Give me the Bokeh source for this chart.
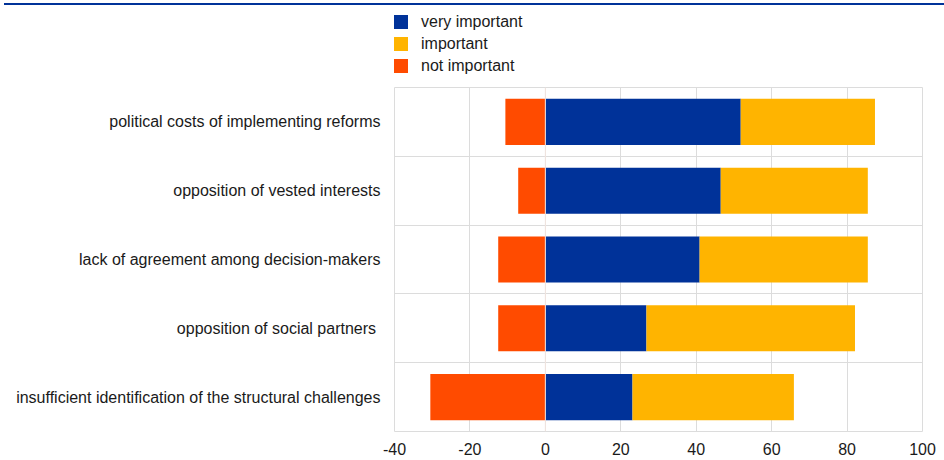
from bokeh.plotting import figure
from bokeh.models import FactorRange, FixedTicker, Span, Range1d, Div
from bokeh.layouts import column
from bokeh.embed import file_html
from bokeh.resources import INLINE

categories = [
    "political costs of implementing reforms",
    "opposition of vested interests",
    "lack of agreement among decision-makers",
    "opposition of social partners ",
    "insufficient identification of the structural challenges",
]
very_important = [51.8, 46.5, 40.9, 26.8, 23.1]
important = [35.6, 39.0, 44.6, 55.3, 42.8]
not_important = [-10.6, -7.2, -12.5, -12.5, -30.5]
series_names = ["very important", "important", "not important"]
x_ticks = [-40, -20, 0, 20, 40, 60, 80, 100]
x_tick_labels = ["-40", "-20", "0", "20", "40", "60", "80", "100"]

BLUE = "#003299"
YELLOW = "#FFB400"
ORANGE = "#FF4B00"
series_colors = [BLUE, YELLOW, ORANGE]
FONT = "Liberation Sans"
TEXT = "#1a1a1a"
GRID = "#dcdcdc"

p = figure(
    width=944, height=383,
    y_range=FactorRange(factors=list(reversed(categories)), range_padding=0),
    x_range=Range1d(-40, 100),
    output_backend="svg", toolbar_location=None,
    min_border_left=394, min_border_right=22, min_border_top=10, min_border_bottom=29,
)
p.background_fill_color = "white"
p.border_fill_color = "white"
p.outline_line_color = GRID
p.outline_line_width = 1

right_important = [v + i for v, i in zip(very_important, important)]
zeros = [0] * len(categories)

p.hbar(y=categories, left=zeros, right=very_important, height=0.67,
       fill_color=BLUE, line_color=None)
p.hbar(y=categories, left=very_important, right=right_important, height=0.67,
       fill_color=YELLOW, line_color=None)
p.hbar(y=categories, left=not_important, right=zeros, height=0.67,
       fill_color=ORANGE, line_color=None)

p.add_layout(Span(location=0, dimension="height", line_color="#f2e6e0", line_width=1))

# axes
p.xaxis.ticker = FixedTicker(ticks=x_ticks)
p.xaxis.major_label_overrides = dict(zip(x_ticks, x_tick_labels))
p.xaxis.axis_line_color = None
p.xaxis.major_tick_line_color = None
p.xaxis.minor_tick_line_color = None
p.xaxis.major_tick_out = 0
p.xaxis.major_tick_in = 0
p.xaxis.major_label_standoff = 11
p.xaxis.major_label_text_font = FONT
p.xaxis.major_label_text_font_size = "16px"
p.xaxis.major_label_text_color = TEXT

p.yaxis.axis_line_color = None
p.yaxis.major_tick_line_color = None
p.yaxis.minor_tick_line_color = None
p.yaxis.major_tick_out = 0
p.yaxis.major_tick_in = 0
p.yaxis.major_label_standoff = 14
p.yaxis.major_label_text_font = FONT
p.yaxis.major_label_text_font_size = "16px"
p.yaxis.major_label_text_color = TEXT

p.xgrid.ticker = FixedTicker(ticks=x_ticks)
p.xgrid.grid_line_color = GRID
p.ygrid.ticker = FixedTicker(ticks=[1, 2, 3, 4])
p.ygrid.grid_line_color = GRID

# header: top rule + legend (HTML)
rows = []
for i, (name, col) in enumerate(zip(series_names, series_colors)):
    top = 15 + i * 22
    rows.append(
        f'<div style="position:absolute;left:394px;top:{top}px;width:14px;height:14px;background:{col};"></div>'
        f'<div style="position:absolute;left:421px;top:{top}px;height:14px;line-height:14px;'
        f'font-family:\'{FONT}\';font-size:16px;color:{TEXT};white-space:nowrap;">{name}</div>'
    )
html = (
    '<div style="position:relative;width:944px;height:77px;">'
    f'<div style="position:absolute;left:4px;top:3px;width:940px;height:2px;background:{BLUE};"></div>'
    + "".join(rows) + '</div>'
)
header = Div(text=html, width=944, height=77, margin=0)

layout = column(header, p, spacing=0)
open("out.html", "w").write(file_html(layout, INLINE))
